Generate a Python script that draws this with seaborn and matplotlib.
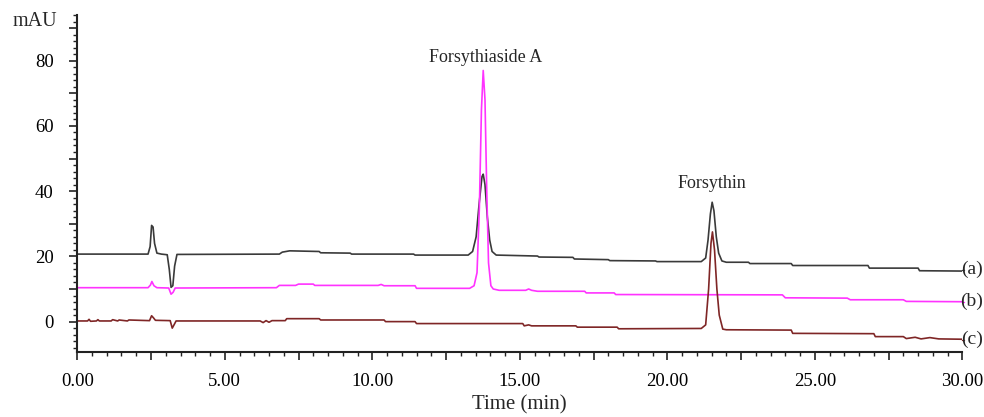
import seaborn as sns
import matplotlib.pyplot as plt
from matplotlib.ticker import MultipleLocator, FuncFormatter

# trace (a) - dark grey
time_a = [0.00, 1.40, 2.40, 2.47, 2.52, 2.57, 2.62, 2.70, 2.85, 3.05, 3.12, 3.18, 3.24, 3.30, 3.38,
          6.85, 6.95, 7.20, 8.20, 8.25, 9.25, 9.30, 11.40, 11.45, 13.25, 13.40, 13.52, 13.62, 13.72,
          13.76, 13.82, 13.90, 13.98, 14.06, 14.20, 15.60, 15.65, 16.80, 16.85, 18.00, 18.05, 19.60,
          19.65, 21.15, 21.30, 21.38, 21.46, 21.52, 21.58, 21.66, 21.74, 21.85, 22.00, 22.75, 22.80,
          24.20, 24.25, 26.80, 26.85, 28.50, 28.55, 30.00]
mau_a = [20.7, 20.7, 20.7, 23.0, 29.5, 29.0, 24.0, 21.0, 20.7, 20.5, 16.0, 10.5, 11.0, 17.0, 20.6,
         20.7, 21.3, 21.7, 21.5, 21.1, 21.0, 20.7, 20.7, 20.4, 20.4, 21.5, 26.0, 36.0, 44.5,
         45.2, 42.0, 32.0, 25.0, 21.5, 20.4, 20.1, 19.8, 19.7, 19.2, 19.0, 18.7, 18.6,
         18.4, 18.4, 19.5, 25.0, 33.0, 36.6, 34.0, 26.0, 21.0, 18.6, 18.2, 18.2, 17.8,
         17.8, 17.2, 17.2, 16.4, 16.4, 15.6, 15.5]

# trace (b) - magenta
time_b = [0.00, 2.40, 2.48, 2.53, 2.60, 2.70, 3.10, 3.18, 3.25, 3.32, 6.75, 6.85, 7.40, 7.50, 8.00,
          8.05, 10.20, 10.30, 10.40, 11.45, 11.50, 13.30, 13.45, 13.55, 13.63, 13.70, 13.76, 13.82,
          13.88, 13.94, 14.02, 14.10, 14.30, 15.20, 15.30, 15.40, 15.60, 17.20, 17.25, 18.20, 18.25,
          23.90, 24.00, 26.10, 26.20, 28.00, 28.10, 30.00]
mau_b = [10.4, 10.4, 11.2, 12.3, 11.0, 10.4, 10.3, 8.4, 9.0, 10.3, 10.4, 11.1, 11.1, 11.5, 11.5,
         11.1, 11.1, 11.4, 11.0, 11.0, 10.2, 10.2, 11.0, 15.0, 35.0, 65.0, 77.0, 68.0,
         40.0, 18.0, 11.0, 10.0, 9.6, 9.6, 10.0, 9.6, 9.3, 9.3, 8.8, 8.8, 8.3,
         8.2, 7.3, 7.2, 6.7, 6.7, 6.2, 6.1]

# trace (c) - brown
time_c = [0.00, 0.35, 0.40, 0.45, 0.65, 0.70, 0.75, 1.15, 1.20, 1.37, 1.42, 1.70, 1.75, 2.45, 2.52,
          2.58, 2.65, 3.15, 3.22, 3.28, 3.35, 6.20, 6.30, 6.40, 6.50, 6.60, 7.05, 7.10, 8.20, 8.25,
          10.40, 10.45, 11.45, 11.50, 15.10, 15.15, 15.30, 15.40, 16.90, 16.95, 18.30, 18.35, 21.15,
          21.30, 21.40, 21.48, 21.53, 21.60, 21.68, 21.76, 21.88, 22.00, 24.20, 24.25, 27.00, 27.05,
          28.00, 28.10, 28.40, 28.60, 28.90, 29.20, 30.00]
mau_c = [0.2, 0.2, 0.7, 0.1, 0.2, 0.6, 0.2, 0.2, 0.6, 0.2, 0.5, 0.2, 0.5, 0.3, 1.8,
         1.2, 0.4, 0.3, -2.0, -1.0, 0.2, 0.2, -0.3, 0.3, -0.2, 0.3, 0.3, 0.9, 0.9, 0.5,
         0.5, 0.0, 0.0, -0.6, -0.6, -1.3, -1.0, -1.3, -1.3, -1.7, -1.7, -2.2, -2.1,
         -1.0, 10.0, 24.0, 27.5, 22.0, 10.0, 2.0, -2.3, -2.5, -2.6, -3.6, -3.7, -4.6,
         -4.6, -5.2, -4.8, -5.3, -4.9, -5.3, -5.4]

trace_labels = ["(a)", "(b)", "(c)"]
trace_colors = ["#3a3a3a", "#ff33ff", "#7f2626"]
peak_names = ["Forsythiaside A", "Forsythin"]
peak_pos = [(13.83, 81.0), (21.5, 42.3)]
label_y = [15.9, 6.1, -5.5]

sns.set_style("ticks")
plt.rcParams['font.family'] = ['Liberation Serif', 'DejaVu Serif']

fig = plt.figure(figsize=(9.84, 4.17), dpi=100)
ax = fig.add_axes([0.0785, 0.156, 0.8995, 0.808])

traces = [(time_a, mau_a), (time_b, mau_b), (time_c, mau_c)]
for (t, v), col in zip(traces, trace_colors):
    sns.lineplot(x=t, y=v, ax=ax, color=col, linewidth=1.2, sort=False, estimator=None)

ax.set_xlim(0, 30)
ax.set_ylim(-9.3, 94)

for name, (px, py) in zip(peak_names, peak_pos):
    ax.text(px, py, name, ha='center', va='center', fontsize=13)

# curve labels sit just right of the axis end, flush with the figure edge
for lab, ly, col in zip(trace_labels, label_y, trace_colors):
    ax.annotate(lab, xy=(0.999, ly), xycoords=('figure fraction', 'data'),
                ha='right', va='center', fontsize=14, annotation_clip=False)
    ax.plot([30.0, 30.05], [ly, ly], color=col, lw=1.0, clip_on=False)

ax.text(-0.0225, 91.9, "mAU", transform=ax.get_yaxis_transform(), ha='right', va='center',
        fontsize=14.5)

ax.xaxis.set_major_locator(MultipleLocator(2.5))
ax.xaxis.set_minor_locator(MultipleLocator(0.5))
ax.xaxis.set_major_formatter(FuncFormatter(lambda v, p: "%.2f" % v if abs(v / 5 - round(v / 5)) < 1e-6 else ""))
ax.yaxis.set_major_locator(MultipleLocator(10))
ax.yaxis.set_minor_locator(MultipleLocator(2))
ax.yaxis.set_major_formatter(FuncFormatter(lambda v, p: "%d" % v if (v % 20 == 0 and v >= 0) else ""))

ax.tick_params(which='major', direction='out', length=6, width=1.2, color='#222222',
               labelsize=13.5, labelcolor='black')
ax.tick_params(axis='y', which='major', pad=11)
ax.tick_params(axis='x', which='major', pad=9)
ax.tick_params(which='minor', direction='out', length=3, width=1.0, color='#222222')

sns.despine(ax=ax)
for s in ['left', 'bottom']:
    ax.spines[s].set_linewidth(1.5)
    ax.spines[s].set_color('#222222')

ax.set_xlabel("Time (min)", fontsize=15, labelpad=4)
ax.set_ylabel("")

fig.savefig("out.png", dpi=100)
